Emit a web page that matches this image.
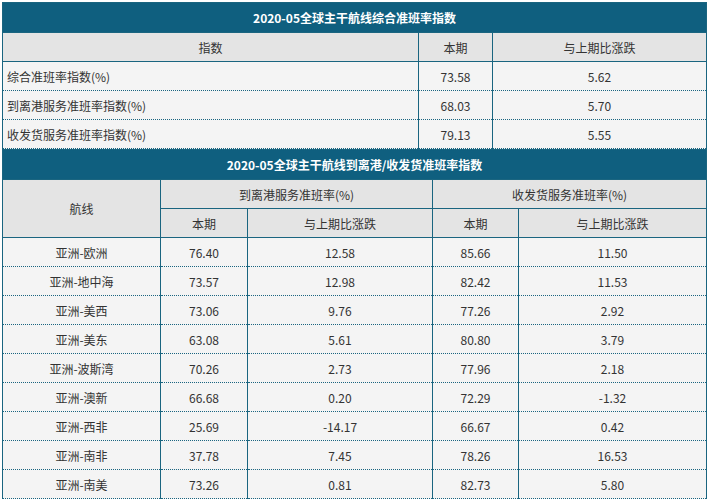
<!DOCTYPE html>
<html><head><meta charset="utf-8">
<script src="https://cdn.jsdelivr.net/npm/chart.js@4/dist/chart.umd.min.js"></script>
<style>
body{margin:0;background:#fff;font-family:"Noto Sans CJK SC","Noto Sans",sans-serif;font-size:12px;color:#333}
#wrap{position:absolute;left:2px;top:2px;width:704px}
table{border-collapse:collapse;width:704px;table-layout:fixed}
td{padding:0;border:1px solid #1a6580;background:#f4f4f4;height:28px;text-align:center;white-space:nowrap}
.t{background:#0f5f7f;color:#fff;font-weight:bold;height:29px}
.h{background:#e4e4e4}
.l{text-align:left;padding-left:4px}
.d td{border-bottom:1px dotted #1a6580;border-top:1px dotted #1a6580}
</style></head><body>
<div id="wrap"></div>
<script>
// 表1 数据
var title1 = '2020-05全球主干航线综合准班率指数';
var indexNames = ['综合准班率指数(%)', '到离港服务准班率指数(%)', '收发货服务准班率指数(%)'];
var indexNow = ['73.58', '68.03', '79.13'];
var indexChange = ['5.62', '5.70', '5.55'];

// 表2 数据
var title2 = '2020-05全球主干航线到离港/收发货准班率指数';
var routes = ['亚洲-欧洲', '亚洲-地中海', '亚洲-美西', '亚洲-美东', '亚洲-波斯湾', '亚洲-澳新', '亚洲-西非', '亚洲-南非', '亚洲-南美'];
var portNow = ['76.40', '73.57', '73.06', '63.08', '70.26', '66.68', '25.69', '37.78', '73.26'];
var portChange = ['12.58', '12.98', '9.76', '5.61', '2.73', '0.20', '-14.17', '7.45', '0.81'];
var cargoNow = ['85.66', '82.42', '77.26', '80.80', '77.96', '72.29', '66.67', '78.26', '82.73'];
var cargoChange = ['11.50', '11.53', '2.92', '3.79', '2.18', '-1.32', '0.42', '16.53', '5.80'];

var h = '<table><colgroup><col style="width:416px"><col style="width:74px"><col style="width:214px"></colgroup>';
h += '<tr><td class="t" colspan="3">' + title1 + '</td></tr>';
h += '<tr><td class="h">指数</td><td class="h">本期</td><td class="h">与上期比涨跌</td></tr>';
for (var i = 0; i < indexNames.length; i++) {
  h += '<tr class="d"><td class="l">' + indexNames[i] + '</td><td>' + indexNow[i] + '</td><td>' + indexChange[i] + '</td></tr>';
}
h += '</table>';

h += '<table><colgroup><col style="width:158px"><col style="width:87px"><col style="width:185px"><col style="width:86px"><col style="width:188px"></colgroup>';
h += '<tr><td class="t" colspan="5">' + title2 + '</td></tr>';
h += '<tr><td class="h" rowspan="2">航线</td><td class="h" colspan="2">到离港服务准班率(%)</td><td class="h" colspan="2">收发货服务准班率(%)</td></tr>';
h += '<tr><td class="h">本期</td><td class="h">与上期比涨跌</td><td class="h">本期</td><td class="h">与上期比涨跌</td></tr>';
for (var j = 0; j < routes.length; j++) {
  h += '<tr class="d"><td>' + routes[j] + '</td><td>' + portNow[j] + '</td><td>' + portChange[j] + '</td><td>' + cargoNow[j] + '</td><td>' + cargoChange[j] + '</td></tr>';
}
h += '</table>';
document.getElementById('wrap').innerHTML = h;
</script>
</body></html>
